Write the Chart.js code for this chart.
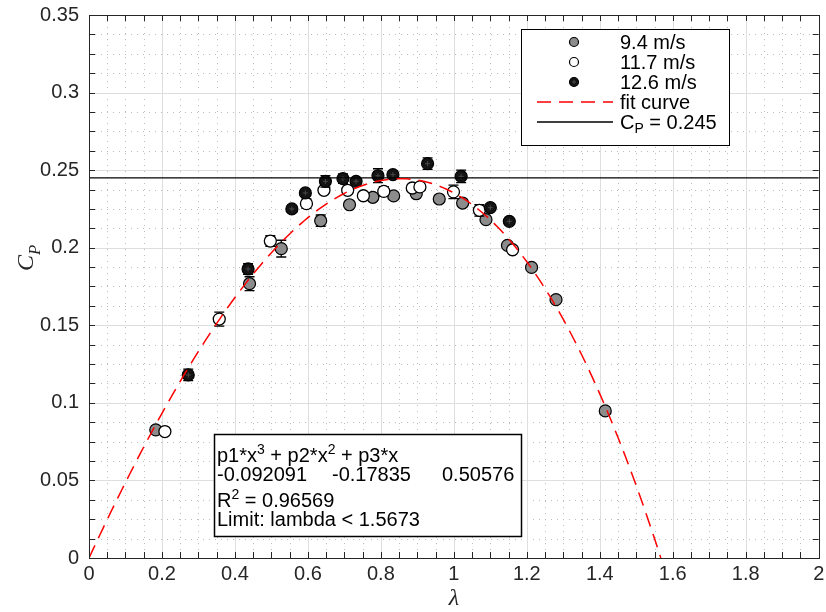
<!DOCTYPE html>
<html>
<head>
<meta charset="utf-8">
<script src="https://cdn.jsdelivr.net/npm/chart.js@4.4.0/dist/chart.umd.min.js"></script>
<style>
  body { margin: 0; background: #fff; }
  canvas { display: block; }
</style>
</head>
<body>
<canvas id="cpChart" width="826" height="612"></canvas>
<script>
// power coefficient against tip speed ratio, three wind speeds
const lambda94 = [0.183, 0.440, 0.527, 0.635, 0.714, 0.778, 0.835, 0.897, 0.960, 1.024, 1.088, 1.147, 1.213, 1.280, 1.415];
const cp94 = [0.0826, 0.1768, 0.1994, 0.2174, 0.2277, 0.2325, 0.2334, 0.2348, 0.2314, 0.2288, 0.2181, 0.2015, 0.1873, 0.1665, 0.0948];
const err94 = [0, 0.0045, 0.0054, 0.0037, 0, 0, 0, 0, 0, 0, 0, 0, 0, 0, 0];

const lambda117 = [0.208, 0.357, 0.497, 0.596, 0.644, 0.709, 0.752, 0.808, 0.886, 0.907, 0.999, 1.070, 1.161];
const cp117 = [0.0815, 0.1540, 0.2043, 0.2284, 0.2370, 0.2370, 0.2335, 0.2363, 0.2385, 0.2392, 0.2360, 0.2241, 0.1987];
const err117 = [0, 0.0045, 0.0034, 0.003, 0, 0, 0, 0.003, 0, 0, 0.0043, 0.0037, 0];

const lambda126 = [0.272, 0.436, 0.556, 0.593, 0.648, 0.696, 0.732, 0.792, 0.833, 0.928, 1.020, 1.100, 1.152];
const cp126 = [0.1180, 0.1863, 0.2250, 0.2353, 0.2428, 0.2445, 0.2428, 0.2464, 0.2471, 0.2542, 0.2460, 0.2258, 0.2170];
const err126 = [0.0037, 0.0035, 0, 0, 0.0037, 0.003, 0, 0.0045, 0.002, 0.0037, 0.004, 0, 0];

// cubic fit p1*x^3 + p2*x^2 + p3*x
const fitCoeffs = [-0.092091, -0.17835, 0.50576];
const fitLimit = 1.5673;
const fitR2 = 0.96569;
const cpLimit = 0.245;

const xTicks = [0, 0.2, 0.4, 0.6, 0.8, 1, 1.2, 1.4, 1.6, 1.8, 2];
const yTicks = [0, 0.05, 0.1, 0.15, 0.2, 0.25, 0.3, 0.35];
const xMinorStep = 0.05;
const yMinorStep = 0.0125;

const AXIS_COLOR = '#262626';
const SANS = '"Liberation Sans", Helvetica, Arial, sans-serif';
const SERIF = '"Liberation Serif", "DejaVu Serif", serif';

function toPoints(xs, ys) {
  return xs.map((x, i) => ({ x: x, y: ys[i] }));
}

function fitPoints() {
  const pts = [];
  const [p1, p2, p3] = fitCoeffs;
  for (let i = 0; i <= 157; i++) {
    const x = Math.min(i * 0.01, fitLimit);
    pts.push({ x: x, y: p1 * x * x * x + p2 * x * x + p3 * x });
  }
  return pts;
}

function fmt(v) {
  return String(parseFloat(Number(v).toFixed(3)));
}

// draws text pieces with super/subscripts, returns end x
function richText(ctx, parts, x, y, size, family, style) {
  parts.forEach((p) => {
    let s = size, dy = 0;
    if (p.sup) { s = size * 0.7; dy = -size * 0.42; }
    if (p.sub) { s = size * 0.7; dy = size * 0.3; }
    ctx.font = `${style || ''} ${s}px ${family}`;
    ctx.fillText(p.t, x, y + dy);
    x += ctx.measureText(p.t).width;
  });
  return x;
}

function drawMarker(ctx, x, y, r, fill) {
  ctx.beginPath();
  ctx.arc(x, y, r, 0, Math.PI * 2);
  ctx.fillStyle = fill;
  ctx.fill();
  ctx.lineWidth = 1.2;
  ctx.strokeStyle = '#000';
  ctx.stroke();
}

function drawCross(ctx, x, y, r) {
  ctx.save();
  ctx.strokeStyle = '#4a4a4a';
  ctx.lineWidth = 1;
  ctx.beginPath();
  ctx.moveTo(x - r, y); ctx.lineTo(x + r, y);
  ctx.moveTo(x, y - r); ctx.lineTo(x, y + r);
  ctx.stroke();
  ctx.restore();
}

const gridPlugin = {
  id: 'matlabGrid',
  beforeDatasetsDraw(chart) {
    const { ctx, chartArea: a, scales: { x, y } } = chart;
    ctx.save();
    ctx.lineWidth = 1;
    // minor dotted grid
    ctx.strokeStyle = '#bdbdbd';
    ctx.setLineDash([1, 5]);
    ctx.beginPath();
    for (let v = xMinorStep; v < 2; v += xMinorStep) {
      const px = Math.round(x.getPixelForValue(v)) + 0.5;
      ctx.moveTo(px, a.top); ctx.lineTo(px, a.bottom);
    }
    for (let v = yMinorStep; v < 0.35; v += yMinorStep) {
      const py = Math.round(y.getPixelForValue(v)) + 0.5;
      ctx.moveTo(a.left, py); ctx.lineTo(a.right, py);
    }
    ctx.stroke();
    // major grid
    ctx.setLineDash([]);
    ctx.strokeStyle = '#dedede';
    ctx.beginPath();
    xTicks.forEach((v) => {
      const px = Math.round(x.getPixelForValue(v)) + 0.5;
      ctx.moveTo(px, a.top); ctx.lineTo(px, a.bottom);
    });
    yTicks.forEach((v) => {
      const py = Math.round(y.getPixelForValue(v)) + 0.5;
      ctx.moveTo(a.left, py); ctx.lineTo(a.right, py);
    });
    ctx.stroke();
    ctx.restore();
  }
};

const errorBarPlugin = {
  id: 'errorBars',
  beforeDatasetDraw(chart, args) {
    const ds = chart.data.datasets[args.index];
    if (!ds.errorBars) return;
    const { ctx, scales: { x, y } } = chart;
    ctx.save();
    ctx.strokeStyle = '#000';
    ctx.lineWidth = 1.3;
    ds.data.forEach((p, i) => {
      const e = ds.errorBars[i];
      if (!e) return;
      const px = x.getPixelForValue(p.x);
      const top = y.getPixelForValue(p.y + e);
      const bot = y.getPixelForValue(p.y - e);
      ctx.beginPath();
      ctx.moveTo(px, top); ctx.lineTo(px, bot);
      ctx.moveTo(px - 5, top); ctx.lineTo(px + 5, top);
      ctx.moveTo(px - 5, bot); ctx.lineTo(px + 5, bot);
      ctx.stroke();
    });
    ctx.restore();
  },
  afterDatasetDraw(chart, args) {
    const ds = chart.data.datasets[args.index];
    if (!ds.crossMark) return;
    const { x, y } = chart.scales;
    ds.data.forEach((p) => {
      drawCross(chart.ctx, x.getPixelForValue(p.x), y.getPixelForValue(p.y), 2.5);
    });
  }
};

const framePlugin = {
  id: 'frameAndBoxes',
  afterDraw(chart) {
    const { ctx, chartArea: a, scales: { x, y } } = chart;
    ctx.save();

    // axes box with inward ticks
    ctx.strokeStyle = AXIS_COLOR;
    ctx.lineWidth = 1;
    ctx.strokeRect(Math.round(a.left) + 0.5, Math.round(a.top) + 0.5,
      Math.round(a.right - a.left), Math.round(a.bottom - a.top));
    const tl = 6;
    ctx.beginPath();
    for (let v = 0; v <= 2.0001; v += xMinorStep) {
      const px = Math.round(x.getPixelForValue(v)) + 0.5;
      ctx.moveTo(px, a.bottom); ctx.lineTo(px, a.bottom - tl);
      ctx.moveTo(px, a.top); ctx.lineTo(px, a.top + tl);
    }
    for (let v = 0; v <= 0.35001; v += yMinorStep) {
      const py = Math.round(y.getPixelForValue(v)) + 0.5;
      ctx.moveTo(a.left, py); ctx.lineTo(a.left + tl, py);
      ctx.moveTo(a.right, py); ctx.lineTo(a.right - tl, py);
    }
    ctx.stroke();

    // axis titles
    ctx.fillStyle = AXIS_COLOR;
    ctx.textBaseline = 'alphabetic';
    ctx.textAlign = 'center';
    ctx.font = `italic 24px ${SERIF}`;
    ctx.fillText('λ', (a.left + a.right) / 2, 605);

    ctx.save();
    ctx.translate(33, 258);
    ctx.rotate(-Math.PI / 2);
    ctx.textAlign = 'left';
    richText(ctx, [{ t: 'C' }, { t: 'P', sub: true }], -13, 0, 24, SERIF, 'italic');
    ctx.restore();

    // legend
    ctx.textAlign = 'left';
    ctx.textBaseline = 'middle';
    ctx.fillStyle = '#fff';
    ctx.fillRect(521, 29, 209, 117);
    ctx.strokeStyle = '#000';
    ctx.lineWidth = 1;
    ctx.strokeRect(521.5, 29.5, 208, 116);
    const rows = [42, 62, 82, 102, 122];
    const mx = 574, tx = 620;
    drawMarker(ctx, mx, rows[0], 4.5, '#8c8c8c');
    drawMarker(ctx, mx, rows[1], 4.5, '#fff');
    drawMarker(ctx, mx, rows[2], 4.5, '#141414');
    drawCross(ctx, mx, rows[2], 2);
    ctx.strokeStyle = '#ff0000';
    ctx.lineWidth = 1.5;
    ctx.setLineDash([14, 8]);
    ctx.beginPath(); ctx.moveTo(537, rows[3]); ctx.lineTo(613, rows[3]); ctx.stroke();
    ctx.setLineDash([]);
    ctx.strokeStyle = '#000';
    ctx.beginPath(); ctx.moveTo(537, rows[4]); ctx.lineTo(613, rows[4]); ctx.stroke();
    ctx.fillStyle = '#000';
    ctx.font = `20px ${SANS}`;
    ctx.fillText('9.4 m/s', tx, rows[0] + 1);
    ctx.fillText('11.7 m/s', tx, rows[1] + 1);
    ctx.fillText('12.6 m/s', tx, rows[2] + 1);
    ctx.fillText('fit curve', tx, rows[3] + 1);
    richText(ctx, [{ t: 'C' }, { t: 'P', sub: true }, { t: ' = ' + cpLimit }], tx, rows[4] + 1, 20, SANS);

    // fit statistics
    ctx.textBaseline = 'alphabetic';
    ctx.fillStyle = '#fff';
    ctx.fillRect(214, 434, 308, 103);
    ctx.strokeStyle = '#000';
    ctx.strokeRect(214.5, 434.5, 307, 102);
    ctx.fillStyle = '#000';
    richText(ctx, [{ t: 'p1*x' }, { t: '3', sup: true }, { t: ' + p2*x' }, { t: '2', sup: true }, { t: ' + p3*x' }], 217, 462, 20, SANS);
    ctx.font = `20px ${SANS}`;
    ctx.fillText(String(fitCoeffs[0]), 217, 481);
    ctx.fillText(String(fitCoeffs[1]), 332, 481);
    ctx.fillText(String(fitCoeffs[2]), 442, 481);
    richText(ctx, [{ t: 'R' }, { t: '2', sup: true }, { t: ' = ' + fitR2 }], 217, 507, 20, SANS);
    ctx.font = `20px ${SANS}`;
    ctx.fillText('Limit: lambda < ' + fitLimit, 217, 526);

    ctx.restore();
  }
};

const tickFont = { family: SANS, size: 20 };

new Chart(document.getElementById('cpChart'), {
  type: 'scatter',
  data: {
    datasets: [
      {
        label: 'fit curve', type: 'line', data: fitPoints(),
        borderColor: '#ff0000', borderWidth: 1.5, borderDash: [14, 8],
        pointRadius: 0, fill: false, tension: 0, order: 0
      },
      {
        label: 'CP limit', type: 'line', data: [{ x: 0, y: cpLimit }, { x: 2, y: cpLimit }],
        borderColor: '#000', borderWidth: 1.3, pointRadius: 0, fill: false, order: 1
      },
      {
        label: '12.6 m/s', data: toPoints(lambda126, cp126), errorBars: err126, crossMark: true,
        backgroundColor: '#141414', borderColor: '#000', borderWidth: 1.2, pointRadius: 6, order: 2
      },
      {
        label: '11.7 m/s', data: toPoints(lambda117, cp117), errorBars: err117,
        backgroundColor: '#fff', borderColor: '#000', borderWidth: 1.3, pointRadius: 6, order: 3
      },
      {
        label: '9.4 m/s', data: toPoints(lambda94, cp94), errorBars: err94,
        backgroundColor: '#8c8c8c', borderColor: '#000', borderWidth: 1.2, pointRadius: 6, order: 4
      }
    ]
  },
  options: {
    responsive: false,
    animation: false,
    devicePixelRatio: 1,
    layout: { padding: { top: 15, right: 6, left: 0, bottom: 0 } },
    plugins: { legend: { display: false }, tooltip: { enabled: false } },
    scales: {
      x: {
        type: 'linear', min: 0, max: 2,
        grid: { display: false, drawTicks: false },
        border: { display: false },
        afterBuildTicks: (s) => { s.ticks = xTicks.map((v) => ({ value: v })); },
        afterFit: (s) => { s.height = 54; s.paddingLeft = 0; s.paddingRight = 0; },
        ticks: { autoSkip: false, maxRotation: 0, padding: 4, color: AXIS_COLOR, font: tickFont, callback: fmt }
      },
      y: {
        type: 'linear', min: 0, max: 0.35,
        grid: { display: false, drawTicks: false },
        border: { display: false },
        afterBuildTicks: (s) => { s.ticks = yTicks.map((v) => ({ value: v })); },
        afterFit: (s) => { s.width = 89; s.paddingTop = 0; s.paddingBottom = 0; },
        ticks: { autoSkip: false, padding: 10, color: AXIS_COLOR, font: tickFont, callback: fmt }
      }
    }
  },
  plugins: [gridPlugin, errorBarPlugin, framePlugin]
});
</script>
</body>
</html>
